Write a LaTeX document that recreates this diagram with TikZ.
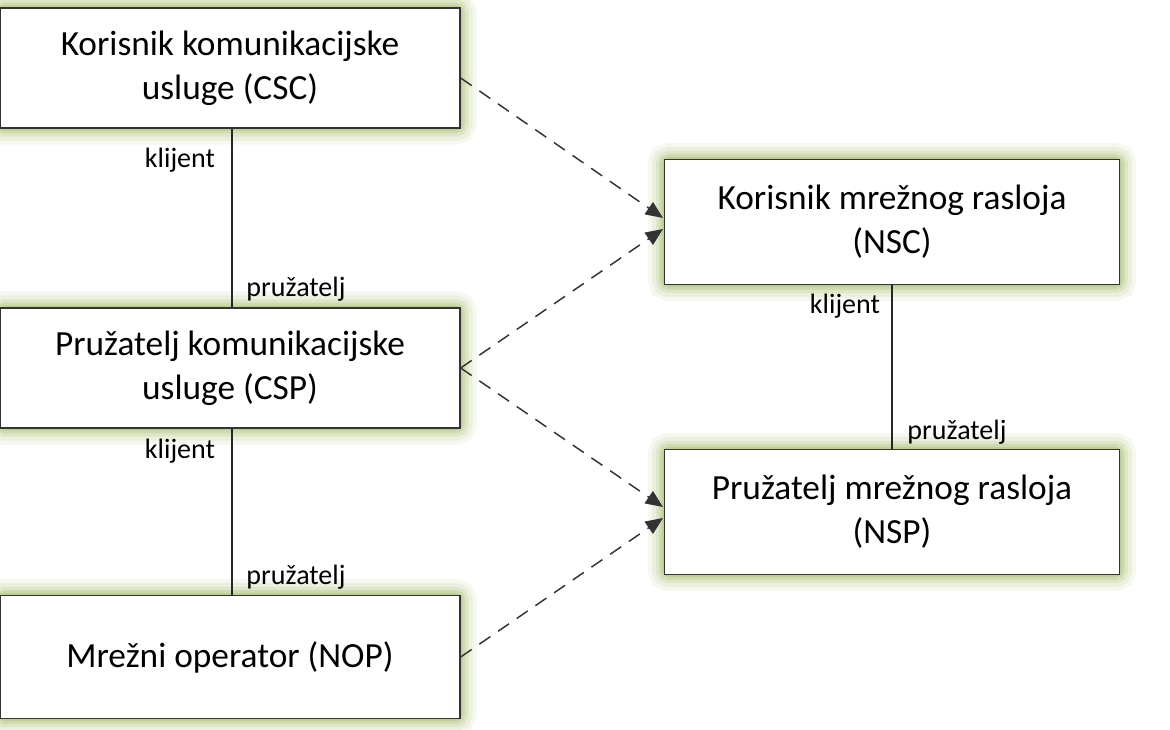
\documentclass[tikz,border=0pt]{standalone}
\usepackage{fontspec}
\setmainfont{Carlito}
\usetikzlibrary{arrows.meta,backgrounds}
\definecolor{glow}{RGB}{165,190,110}
\tikzset{
  box/.style={draw=black!80, line width=1pt, fill=white, minimum width=460*0.75pt, minimum height=120*0.75pt, align=center, font=\fontsize{26.5}{33}\selectfont, inner sep=0pt},
  role/.style={font=\fontsize{21}{24}\selectfont, inner sep=1pt},
  conn/.style={line width=0.8pt, black!85},
  dconn/.style={line width=1.1pt, black!80, dash pattern=on 10pt off 7pt, -{Triangle[length=13pt,width=11pt]}}
}
\newcommand{\glowbox}[1]{%
  \foreach \w/\o in {24/0.10,18/0.14,12/0.2,7/0.28,3/0.4}{%
    \draw[glow, line width=\w pt, opacity=\o, rounded corners=4pt] (#1.north west) rectangle (#1.south east);}
}
\begin{document}
\begin{tikzpicture}[x=0.75pt,y=-0.75pt]
\useasboundingbox (0,0) rectangle (1170,730);
\node[box] (csc) at (230,68) {Korisnik komunikacijske\\usluge (CSC)};
\node[box] (csp) at (230,368) {Pružatelj komunikacijske\\usluge (CSP)};
\node[box, minimum height=123*0.75pt] (nop) at (230,657) {Mrežni operator (NOP)};
\node[box, minimum width=455*0.75pt, minimum height=125*0.75pt] (nsc) at (892,222) {Korisnik mrežnog rasloja\\(NSC)};
\node[box, minimum width=455*0.75pt, minimum height=125*0.75pt] (nsp) at (892,512) {Pružatelj mrežnog rasloja\\(NSP)};
\begin{scope}[on background layer]
\foreach \n in {csc,csp,nop,nsc,nsp}{\glowbox{\n}}
\end{scope}
\draw[conn] (csc.south -| 232,0) -- (csp.north -| 232,0);
\draw[conn] (csp.south -| 232,0) -- (nop.north -| 232,0);
\draw[conn] (nsc.south) -- (nsp.north);
\node[role] at (180,160) {klijent};
\node[role] at (296,289) {pružatelj};
\node[role] at (180,451) {klijent};
\node[role] at (296,577) {pružatelj};
\node[role] at (845,306) {klijent};
\node[role] at (957,432) {pružatelj};
\coordinate (a1) at (663,218);
\coordinate (a2) at (663,229);
\coordinate (b1) at (663,507);
\coordinate (b2) at (663,518);
\draw[dconn] (csc.east |- 0,78) -- (a1);
\draw[dconn] (csp.east) -- (a2);
\draw[dconn] (csp.east) -- (b1);
\draw[dconn] (nop.east) -- (b2);
\end{tikzpicture}
\end{document}
